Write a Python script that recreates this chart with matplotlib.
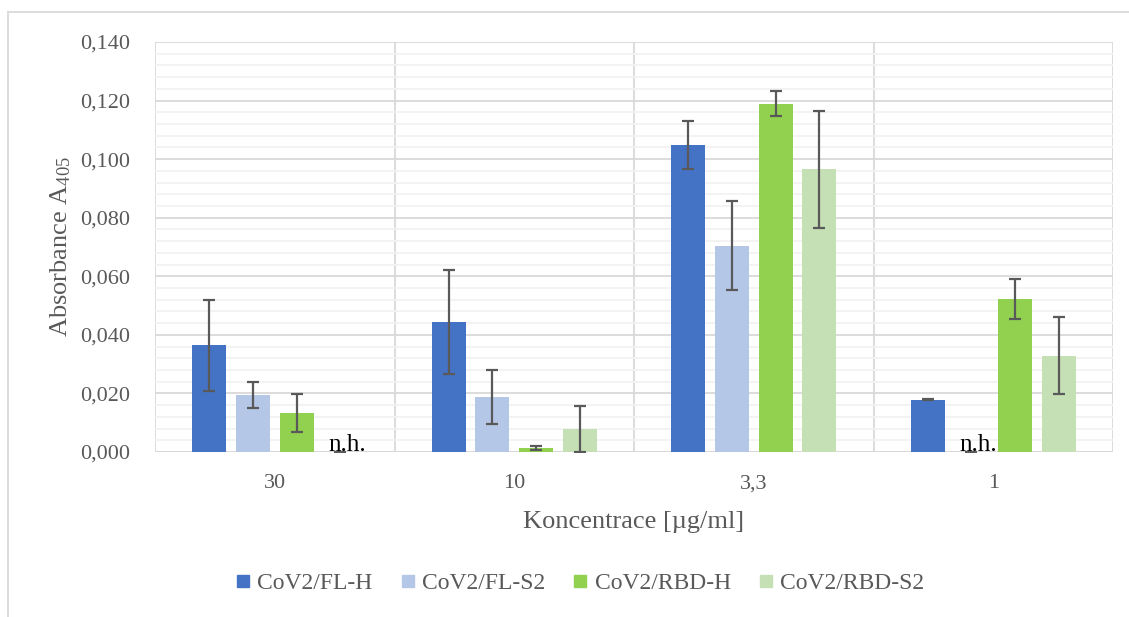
import matplotlib
matplotlib.use("Agg")
import matplotlib.pyplot as plt
from matplotlib.lines import Line2D
import numpy as np

plt.rcParams['font.family'] = ['Liberation Serif', 'DejaVu Serif']
plt.rcParams['mathtext.fontset'] = 'custom'
plt.rcParams['mathtext.rm'] = 'Liberation Serif'
plt.rcParams['mathtext.it'] = 'Liberation Serif:italic'

# data (n.h. = not detected -> 0)
categories = ['30', '10', '3,3', '1']
series = ['CoV2/FL-H', 'CoV2/FL-S2', 'CoV2/RBD-H', 'CoV2/RBD-S2']
fl_h = [0.0365, 0.0444, 0.1049, 0.0179]
fl_s2 = [0.0194, 0.0189, 0.0704, 0.0]
rbd_h = [0.0133, 0.0014, 0.1190, 0.0523]
rbd_s2 = [0.0, 0.0079, 0.0965, 0.0329]
fl_h_err = [0.0155, 0.0176, 0.0082, 0.0002]
fl_s2_err = [0.0045, 0.0092, 0.0152, 0.0]
rbd_h_err = [0.0066, 0.0006, 0.0041, 0.0068]
rbd_s2_err = [0.0, 0.0079, 0.0200, 0.0131]
nh_points = [(3, 0), (1, 3)]  # (series index, category index)
y_ticks = [0.0, 0.02, 0.04, 0.06, 0.08, 0.10, 0.12, 0.14]
y_ticklabels = ['0,000', '0,020', '0,040', '0,060', '0,080', '0,100', '0,120', '0,140']

colors = ['#4472C4', '#B4C7E7', '#92D050', '#C5E0B4']
grid_c = '#D9D9D9'
text_c = '#595959'

values = [fl_h, fl_s2, rbd_h, rbd_s2]
errors = [fl_h_err, fl_s2_err, rbd_h_err, rbd_s2_err]

fig = plt.figure(figsize=(11.29, 6.17), dpi=100)
ax = fig.add_axes([155/1129, 1-452/617, (1113-155)/1129, (452-42)/617])

x = np.arange(len(categories))
step = 0.183
width = 0.142

for i in range(4):
    pos = x + (i - 1.5) * step
    ax.bar(pos, values[i], width, color=colors[i], zorder=3)
    ax.errorbar(pos, values[i], yerr=errors[i], fmt='none', ecolor=text_c,
                elinewidth=1.6, capsize=4.5, capthick=1.6, zorder=4)

# n.h. labels
for s, c in nh_points:
    ax.text(c + (s - 1.5) * step + 0.03, 0.0004, 'n.h.', ha='center', va='baseline',
            fontsize=18, color='black', zorder=5)

ax.set_xlim(-0.5, 3.5)
ax.set_ylim(0, 0.14)
ax.set_yticks(y_ticks)
ax.set_yticklabels(y_ticklabels)
ax.set_yticks(np.arange(0, 0.1401, 0.004), minor=True)
ax.set_xticks(x)
ax.set_xticklabels(categories)
ax.tick_params(axis='both', which='both', length=0, labelsize=16, labelcolor=text_c)
ax.tick_params(axis='y', pad=18)
ax.tick_params(axis='x', pad=16)

ax.grid(axis='y', which='minor', color='#F2F2F2', linewidth=1.3, zorder=0)
ax.grid(axis='y', which='major', color=grid_c, linewidth=1.3, zorder=1)
for b in np.arange(-0.5, 3.6, 1.0):
    ax.axvline(b, color=grid_c, linewidth=1.3, zorder=1)
for sp in ax.spines.values():
    sp.set_visible(False)
ax.axhline(0, color=grid_c, linewidth=1.5, zorder=2)

ax.set_xlabel('Koncentrace [µg/ml]', fontsize=19, color=text_c, labelpad=13)
ax.set_ylabel('Absorbance A$_{\\mathrm{405}}$', fontsize=19, color=text_c, labelpad=5)

handles = [Line2D([], [], marker='s', linestyle='none', markersize=8.5,
                  markerfacecolor=colors[i], markeredgecolor=colors[i]) for i in range(4)]
fig.legend(handles, series, loc='center', bbox_to_anchor=(580/1129, 1-583/617), ncol=4,
           frameon=False, fontsize=17, labelcolor=text_c, handlelength=0.6,
           handletextpad=0.3, columnspacing=1.2)

# outer chart frame (left and top edges visible)
fig.add_artist(Line2D([8/1129, 8/1129], [0, 1-12/617], transform=fig.transFigure,
                      color=grid_c, linewidth=1.3))
fig.add_artist(Line2D([8/1129, 1], [1-12/617, 1-12/617], transform=fig.transFigure,
                      color=grid_c, linewidth=1.3))

fig.savefig('out.png', dpi=100)
